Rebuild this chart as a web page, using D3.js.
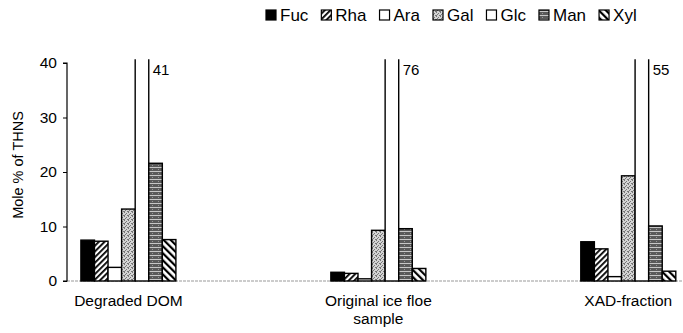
<!DOCTYPE html>
<html>
<head>
<meta charset="utf-8">
<script src="https://cdn.jsdelivr.net/npm/d3@7"></script>
<style>
  html, body { margin: 0; padding: 0; background: #fff; }
  svg { display: block; font-family: "Liberation Sans", Arial, sans-serif; }
</style>
</head>
<body>
<svg id="chart" width="683" height="333"></svg>
<script>
// ---- data ----
const categories = ["Degraded DOM", "Original ice floe sample", "XAD-fraction"];
const categoryLines = [["Degraded DOM"], ["Original ice floe", "sample"], ["XAD-fraction"]];
const series = ["Fuc", "Rha", "Ara", "Gal", "Glc", "Man", "Xyl"];
const fuc = [7.5, 1.6, 7.2];
const rha = [7.3, 1.4, 5.9];
const ara = [2.5, 0.4, 0.8];
const gal = [13.2, 9.3, 19.3];
const glc = [41, 76, 55];
const man = [21.6, 9.6, 10.1];
const xyl = [7.6, 2.3, 1.8];
const seriesValues = [fuc, rha, ara, gal, glc, man, xyl];
const yTicks = [0, 10, 20, 30, 40];
const yTitle = "Mole % of THNS";
const clipValue = 40.7;

// ---- layout ----
const svg = d3.select("#chart");
const yAxisX = 67;
const y = d3.scaleLinear().domain([0, 40]).range([281, 63]);
const x0 = d3.scalePoint().domain(categories).range([128.4, 628.3]);
const x1 = d3.scaleBand().domain(series).range([-47.5, 47.5]).padding(0);

const defs = svg.append("defs");
// Rha: "/" hatch
const pRha = defs.append("pattern").attr("id", "pRha").attr("patternUnits", "userSpaceOnUse")
  .attr("width", 4).attr("height", 4).attr("patternTransform", "rotate(45)");
pRha.append("rect").attr("width", 4).attr("height", 4).attr("fill", "#fff");
pRha.append("rect").attr("x", 0).attr("width", 1.8).attr("height", 4).attr("fill", "#000");
// Xyl: "\" hatch
const pXyl = defs.append("pattern").attr("id", "pXyl").attr("patternUnits", "userSpaceOnUse")
  .attr("width", 5).attr("height", 5).attr("patternTransform", "rotate(-45)");
pXyl.append("rect").attr("width", 5).attr("height", 5).attr("fill", "#fff");
pXyl.append("rect").attr("x", 0).attr("width", 2.2).attr("height", 5).attr("fill", "#000");
// Gal: stipple
const pGal = defs.append("pattern").attr("id", "pGal").attr("patternUnits", "userSpaceOnUse")
  .attr("width", 4).attr("height", 4);
pGal.append("rect").attr("width", 4).attr("height", 4).attr("fill", "#d4d4d4");
[[0,0],[2,1],[1,2],[3,3],[0,3]].forEach(([a,b]) =>
  pGal.append("rect").attr("x", a).attr("y", b).attr("width", 1).attr("height", 1).attr("fill", "#777"));
// Man: dark with horizontal light lines
const pMan = defs.append("pattern").attr("id", "pMan").attr("patternUnits", "userSpaceOnUse")
  .attr("width", 6).attr("height", 4);
pMan.append("rect").attr("width", 6).attr("height", 4).attr("fill", "#5a5a5a");
pMan.append("rect").attr("y", 3).attr("width", 6).attr("height", 1).attr("fill", "#c8c8c8");
pMan.append("rect").attr("x", 2).attr("y", 1).attr("width", 1).attr("height", 1).attr("fill", "#999");

const fills = ["#000", "url(#pRha)", "#fff", "url(#pGal)", "#fff", "url(#pMan)", "url(#pXyl)"];

defs.append("clipPath").attr("id", "plotClip").append("rect")
  .attr("x", 0).attr("y", y(clipValue)).attr("width", 683).attr("height", 333);

// x baseline (gray)
svg.append("line").attr("x1", yAxisX).attr("x2", 683).attr("y1", y(0)).attr("y2", y(0))
  .attr("stroke", "#9a9a9a").attr("stroke-width", 1.2).attr("stroke-dasharray", "3,1");

// bars
const plot = svg.append("g").attr("clip-path", "url(#plotClip)");
categories.forEach((c, ci) => {
  series.forEach((s, si) => {
    const v = seriesValues[si][ci];
    plot.append("rect")
      .attr("x", x0(c) + x1(s))
      .attr("y", y(v))
      .attr("width", x1.bandwidth())
      .attr("height", y(0) - y(v))
      .attr("fill", fills[si])
      .attr("stroke", "#000")
      .attr("stroke-width", 1.4);
  });
});

// value labels for clipped Glc bars
categories.forEach((c, ci) => {
  const v = glc[ci];
  if (v > 40) {
    svg.append("text")
      .attr("x", x0(c) + x1("Glc") + x1.bandwidth() + 4)
      .attr("y", 75)
      .attr("font-size", 15)
      .attr("fill", "#000")
      .text(v);
  }
});

// y axis
const yAxis = d3.axisLeft(y).tickValues(yTicks).tickSize(4).tickPadding(6).tickFormat(d3.format("d"));
const yg = svg.append("g").attr("transform", `translate(${yAxisX},0)`).call(yAxis);
yg.select(".domain").attr("stroke", "#000").attr("stroke-width", 1.2).attr("d", `M-4,${y(40)}H0V${y(0)}H-4`);
yg.selectAll(".tick line").attr("stroke", "#000");
yg.selectAll(".tick text").attr("font-size", 15.5).attr("fill", "#000")
  .attr("font-family", "Liberation Sans, Arial, sans-serif");

// y title
svg.append("text")
  .attr("transform", `translate(23,${(y(0) + y(40)) / 2 - 7}) rotate(-90)`)
  .attr("text-anchor", "middle")
  .attr("font-size", 14.5)
  .text(yTitle);

// category labels
categories.forEach((c, ci) => {
  categoryLines[ci].forEach((line, li) => {
    svg.append("text")
      .attr("x", x0(c))
      .attr("y", 306 + li * 18)
      .attr("text-anchor", "middle")
      .attr("font-size", 15.5)
      .text(line);
  });
});

// legend
let lx = 266;
const legend = svg.append("g");
series.forEach((s, si) => {
  legend.append("rect").attr("x", lx).attr("y", 10).attr("width", 10).attr("height", 10)
    .attr("fill", fills[si]).attr("stroke", "#000").attr("stroke-width", 1.2);
  const t = legend.append("text").attr("x", lx + 14).attr("y", 21).attr("font-size", 17).text(s);
  const w = t.node().getComputedTextLength();
  lx += 14 + w + 13;
});
</script>
</body>
</html>
